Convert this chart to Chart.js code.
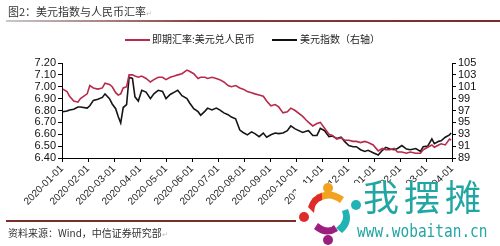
<!DOCTYPE html>
<html>
<head>
<meta charset="utf-8">
<script src="https://cdn.jsdelivr.net/npm/chart.js@4/dist/chart.umd.min.js"></script>
<style>
  body { margin: 0; background: #fff; }
  #wrap { position: relative; width: 500px; height: 246px; overflow: hidden; font-family: "Noto Sans CJK SC", "Liberation Sans", sans-serif; }
  #chart { position: absolute; left: 0; top: 0; }
  .txt { position: absolute; white-space: nowrap; line-height: 1; }
  .pm { color: #bbb; font-size: 7px; }
  #title { left: 8px; top: 6px; font-size: 11px; color: #333; }
  #titleLine { position: absolute; left: 6px; top: 20px; width: 494px; height: 2px; background: linear-gradient(to right, #c8c8c8, #8a3a3a 40%, #7a2b2b); }
  #footLine { position: absolute; left: 6px; top: 220px; width: 300px; height: 2px; background: #7a2f28; }
  #foot { left: 8px; top: 228px; font-size: 10px; color: #333; }
  .leg { position: absolute; top: 39px; width: 25px; height: 2px; }
  .legt { top: 34px; font-size: 10px; color: #222; }
  #wm { position: absolute; left: 296px; top: 183px; width: 204px; height: 63px; background: #fff; }
  #wm1 { left: 363px; top: 177px; font-size: 36px; color: #21a6a3; font-family: "Noto Sans CJK SC", sans-serif; letter-spacing: 5px; }
  #wm2 { left: 357px; top: 223px; font-size: 17px; color: #21a6a3; font-family: "DejaVu Sans Mono", monospace; transform: scaleX(0.85); transform-origin: left top; }
</style>
</head>
<body>
<div id="wrap">
  <canvas id="chart" width="500" height="246"></canvas>
  <div class="txt" id="title">图2：美元指数与人民币汇率<span class="pm">↵</span></div>
  <div id="titleLine"></div>
  <div class="leg" style="left:125px;background:#b8294a"></div>
  <div class="txt legt" style="left:152px">即期汇率:美元兑人民币</div>
  <div class="leg" style="left:272px;background:#111"></div>
  <div class="txt legt" style="left:300px">美元指数（右轴）</div>
  <div id="footLine"></div>
  <div class="txt" id="foot">资料来源：Wind，中信证券研究部<span class="pm">↵</span></div>
  <div id="wm">
    <svg width="64" height="63" viewBox="0 0 64 63" style="position:absolute;left:2px;top:0">
      <circle cx="30" cy="5" r="5" fill="#f2a21e"/>
      <path d="M18 12 Q32 4 46 14 L42 20 Q32 12 22 18 Z" fill="#f2a21e"/>
      <circle cx="58" cy="22" r="5" fill="#1fb3b5"/>
      <path d="M50 26 Q56 40 44 50 L38 45 Q48 38 44 28 Z" fill="#1fb3b5"/>
      <circle cx="30" cy="57" r="5" fill="#9b1f7d"/>
      <path d="M40 48 Q28 56 16 46 L20 40 Q30 48 36 42 Z" fill="#9b1f7d"/>
      <circle cx="6" cy="34" r="5" fill="#e02a2a"/>
      <path d="M10 24 Q14 12 24 10 L24 17 Q16 20 16 30 Z" fill="#e02a2a"/>
    </svg>
  </div>
  <div class="txt" id="wm1">我摆摊</div>
  <div class="txt" id="wm2">www.wobaitan.cn</div>
</div>
<script>
// 月度刻度
const xTickLabels = ['2020-01-01', '2020-02-01', '2020-03-01', '2020-04-01', '2020-05-01', '2020-06-01',
  '2020-07-01', '2020-08-01', '2020-09-01', '2020-10-01', '2020-11-01', '2020-12-01',
  '2021-01-01', '2021-02-01', '2021-03-01', '2021-04-01'];

const dates = [
  '2020-01-02', '2020-01-07', '2020-01-10', '2020-01-15', '2020-01-20', '2020-01-23', '2020-01-31',
  '2020-02-03', '2020-02-07', '2020-02-12', '2020-02-17', '2020-02-20', '2020-02-25', '2020-02-28',
  '2020-03-03', '2020-03-06', '2020-03-09', '2020-03-12', '2020-03-16', '2020-03-19', '2020-03-23', '2020-03-26', '2020-03-30',
  '2020-04-03', '2020-04-08', '2020-04-13', '2020-04-17', '2020-04-22', '2020-04-27',
  '2020-05-01', '2020-05-06', '2020-05-11', '2020-05-15', '2020-05-20', '2020-05-26', '2020-05-29',
  '2020-06-03', '2020-06-08', '2020-06-11', '2020-06-16', '2020-06-19', '2020-06-24', '2020-06-29',
  '2020-07-03', '2020-07-08', '2020-07-13', '2020-07-17', '2020-07-22', '2020-07-27', '2020-07-31',
  '2020-08-05', '2020-08-10', '2020-08-14', '2020-08-19', '2020-08-24', '2020-08-28',
  '2020-09-02', '2020-09-07', '2020-09-11', '2020-09-16', '2020-09-21', '2020-09-25', '2020-09-30',
  '2020-10-09', '2020-10-13', '2020-10-16', '2020-10-21', '2020-10-26', '2020-10-30',
  '2020-11-04', '2020-11-09', '2020-11-13', '2020-11-18', '2020-11-23', '2020-11-27',
  '2020-12-02', '2020-12-07', '2020-12-11', '2020-12-16', '2020-12-21', '2020-12-25', '2020-12-31',
  '2021-01-06', '2021-01-11', '2021-01-15', '2021-01-20', '2021-01-25', '2021-01-29',
  '2021-02-03', '2021-02-08', '2021-02-12', '2021-02-18', '2021-02-23', '2021-02-26',
  '2021-03-03', '2021-03-08', '2021-03-11', '2021-03-16', '2021-03-19', '2021-03-24', '2021-03-29', '2021-03-31'
];

// 即期汇率:美元兑人民币 (左轴)
const usdCny = [
  6.98, 6.96, 6.92, 6.88, 6.87, 6.90, 6.94,
  7.01, 6.99, 6.98, 6.99, 7.03, 7.02, 7.00,
  6.95, 6.93, 6.94, 6.99, 7.00, 7.10, 7.10, 7.09, 7.08,
  7.09, 7.07, 7.04, 7.06, 7.08, 7.08,
  7.06, 7.08, 7.09, 7.10, 7.11, 7.14, 7.13,
  7.11, 7.07, 7.08, 7.08, 7.07, 7.08, 7.07,
  7.06, 7.04, 7.01, 7.00, 7.01, 6.99, 6.98,
  6.96, 6.95, 6.94, 6.93, 6.92, 6.88,
  6.84, 6.85, 6.83, 6.78, 6.79, 6.82, 6.80,
  6.75, 6.72, 6.70, 6.67, 6.69, 6.70,
  6.65, 6.60, 6.59, 6.56, 6.57, 6.55,
  6.55, 6.54, 6.54, 6.53, 6.54, 6.53, 6.51,
  6.46, 6.48, 6.47, 6.47, 6.48, 6.45,
  6.45, 6.44, 6.45, 6.44, 6.44, 6.47,
  6.49, 6.51, 6.49, 6.51, 6.52, 6.51, 6.56, 6.55
];

// 美元指数 (右轴)
const dxy = [
  96.8, 96.9, 97.1, 97.2, 97.6, 97.6, 97.4,
  97.8, 98.7, 98.9, 99.2, 99.8, 99.0, 98.1,
  97.3, 96.0, 94.9, 97.5, 98.0, 102.6, 102.4, 99.3, 98.6,
  100.4, 100.1, 99.0, 99.8, 100.4, 100.2,
  99.0, 99.7, 100.1, 100.4, 99.5, 99.0, 98.3,
  97.3, 96.8, 96.2, 96.9, 97.4, 97.1, 97.4,
  97.1, 96.6, 96.3, 95.9, 95.6, 93.7, 93.3,
  92.9, 93.4, 93.1, 92.6, 93.2, 92.5,
  92.9, 93.2, 93.1, 93.2, 93.6, 94.4, 93.9,
  93.3, 93.5, 93.6, 92.8, 92.8, 94.0,
  93.6, 92.6, 92.7, 92.3, 92.5, 91.8,
  91.1, 90.9, 90.9, 90.4, 90.1, 90.3, 89.9,
  89.5, 90.3, 90.8, 90.5, 90.4, 90.6,
  91.1, 90.5, 90.4, 90.6, 90.1, 90.9,
  91.0, 92.2, 91.4, 91.8, 91.9, 92.5, 92.9, 93.2
];

// 日期 -> 月序号 (2020-01-01 = 0)
function monthPos(s) {
    const [y, m, d] = s.split('-').map(Number);
    const days = new Date(y, m, 0).getDate();
    return (y - 2020) * 12 + (m - 1) + (d - 1) / days;
}

const xs = dates.map(monthPos);
const tickFont = { family: 'Liberation Sans, Arial, sans-serif', size: 11 };

new Chart(document.getElementById('chart'), {
    type: 'line',
    data: {
        datasets: [{
            label: '即期汇率:美元兑人民币',
            data: xs.map((x, i) => ({ x: x, y: usdCny[i] })),
            borderColor: '#b8294a',
            borderWidth: 1.6,
            pointRadius: 0,
            yAxisID: 'y'
        }, {
            label: '美元指数（右轴）',
            data: xs.map((x, i) => ({ x: x, y: dxy[i] })),
            borderColor: '#151515',
            borderWidth: 1.6,
            pointRadius: 0,
            yAxisID: 'y2'
        }]
    },
    options: {
        responsive: false,
        animation: false,
        devicePixelRatio: 1,
        layout: { padding: { top: 63, left: 0, right: 0, bottom: 0 } },
        plugins: { legend: { display: false }, tooltip: { enabled: false } },
        scales: {
            x: {
                type: 'linear',
                min: 0,
                max: 15,
                ticks: {
                    stepSize: 1,
                    autoSkip: false,
                    minRotation: 45,
                    maxRotation: 45,
                    padding: 1,
                    color: '#222',
                    font: { family: 'Liberation Sans, Arial, sans-serif', size: 10 },
                    callback: (v, i) => xTickLabels[i]
                },
                grid: { drawOnChartArea: false, tickLength: 4, color: '#000' },
                border: { color: '#000' },
                afterFit: s => { s.height = 88; }
            },
            y: {
                position: 'left',
                min: 6.4,
                max: 7.2,
                ticks: { stepSize: 0.1, autoSkip: false, color: '#111', font: tickFont, padding: 2, callback: v => v.toFixed(2) },
                grid: { drawOnChartArea: false, tickLength: 4, color: '#000' },
                border: { color: '#000' },
                afterFit: s => { s.width = 62; }
            },
            y2: {
                position: 'right',
                min: 89,
                max: 105,
                ticks: { stepSize: 2, autoSkip: false, color: '#111', font: tickFont, padding: 2 },
                grid: { drawOnChartArea: false, tickLength: 4, color: '#000' },
                border: { color: '#000' },
                afterFit: s => { s.width = 48; }
            }
        }
    }
});
</script>
</body>
</html>
